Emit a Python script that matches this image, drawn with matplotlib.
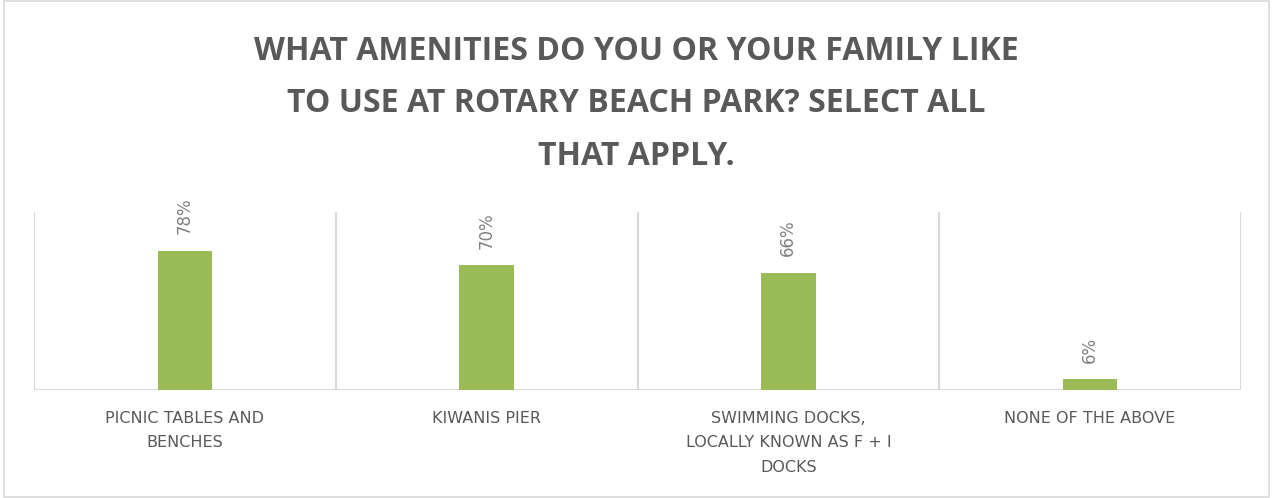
import matplotlib
matplotlib.use("Agg")
import matplotlib.pyplot as plt
from matplotlib.patches import Rectangle

categories = ["PICNIC TABLES AND\nBENCHES", "KIWANIS PIER",
              "SWIMMING DOCKS,\nLOCALLY KNOWN AS F + I\nDOCKS", "NONE OF THE ABOVE"]
values = [0.78, 0.70, 0.66, 0.06]
value_labels = ["78%", "70%", "66%", "6%"]
title = "WHAT AMENITIES DO YOU OR YOUR FAMILY LIKE\nTO USE AT ROTARY BEACH PARK? SELECT ALL\nTHAT APPLY."

W, H = 1273, 498
fig = plt.figure(figsize=(W / 100, H / 100), dpi=100)
fig.patch.set_facecolor("white")
fig.add_artist(Rectangle((0.003, 0.003), 0.994, 0.994, transform=fig.transFigure,
                         fill=False, edgecolor="#D9D9D9", linewidth=1.2))

ax = fig.add_axes([34 / W, 1 - 390 / H, (1241 - 34) / W, (390 - 212) / H])
x = list(range(len(categories)))
ax.bar(x, values, width=0.18, color="#9BBB59", zorder=3)
ax.set_xlim(-0.5, len(categories) - 0.5)
ax.set_ylim(0, 1.0)
for s in ax.spines.values():
    s.set_visible(False)
ax.axhline(0, color="#D9D9D9", linewidth=1.5, zorder=2)
for b in [i - 0.5 for i in range(len(categories) + 1)]:
    ax.axvline(b, color="#D9D9D9", linewidth=1.5, zorder=1)
ax.set_yticks([])
ax.set_xticks(x)
ax.set_xticklabels(categories, fontsize=11.5, color="#595959", family="DejaVu Sans",
                   linespacing=1.8)
ax.tick_params(axis="x", length=0, pad=15)

for xi, v, lab in zip(x, values, value_labels):
    ax.annotate(lab, (xi, v), xytext=(0, 12), textcoords="offset points",
                rotation=90, ha="center", va="bottom", fontsize=12,
                color="#808080", family="DejaVu Sans")

fig.text(0.5, 1 - 104 / H, title, ha="center", va="center", fontsize=23,
         fontweight="bold", color="#595959", family="Open Sans", linespacing=1.78)

fig.savefig("out.png", dpi=100, facecolor="white")
